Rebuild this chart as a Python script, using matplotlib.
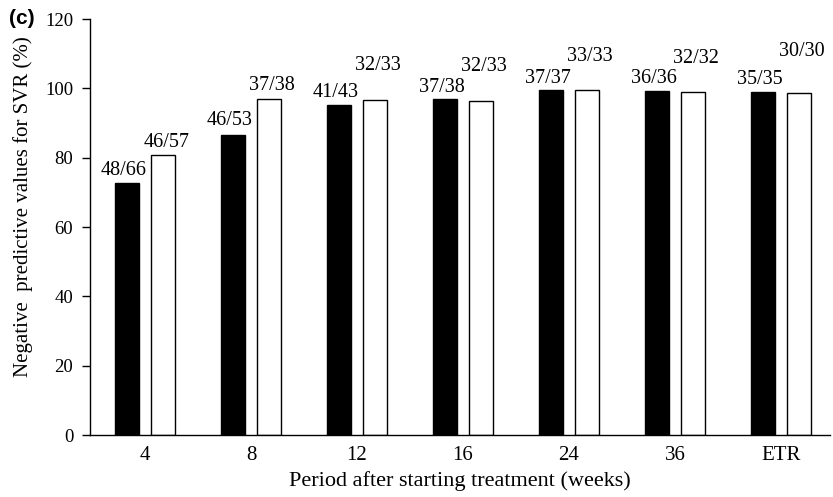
import numpy as np
import matplotlib
matplotlib.use("Agg")
import matplotlib.pyplot as plt

categories = ["4", "8", "12", "16", "24", "36", "ETR"]
black_vals = [72.8, 86.6, 95.1, 96.8, 99.5, 99.2, 99.0]
white_vals = [80.7, 96.9, 96.6, 96.4, 99.4, 99.0, 98.8]
black_labels = ["48/66", "46/53", "41/43", "37/38", "37/37", "36/36", "35/35"]
white_labels = ["46/57", "37/38", "32/33", "32/33", "33/33", "32/32", "30/30"]
# heights where the count labels sit (baseline)
black_label_y = [73.5, 88.0, 96.0, 97.5, 100.0, 100.0, 99.8]
white_label_y = [81.5, 98.0, 104.0, 103.5, 106.5, 106.0, 108.0]

plt.rcParams["font.family"] = ["Liberation Serif", "DejaVu Serif"]

fig = plt.figure(figsize=(8.33, 4.97), dpi=100)
ax = fig.add_axes([0.108, 0.1247, 0.888, 0.837])

x = np.arange(len(categories))
off = 0.17
w = 0.22
ax.bar(x - off, black_vals, w, color="black", edgecolor="black", linewidth=1)
ax.bar(x + off, white_vals, w, color="white", edgecolor="black", linewidth=1)

for i in range(len(categories)):
    ax.text(x[i] - off - 0.03, black_label_y[i], black_labels[i], ha="center",
            va="bottom", fontsize=14.5)
    ax.text(x[i] + off + 0.03, white_label_y[i], white_labels[i], ha="center",
            va="bottom", fontsize=14.5)

ax.set_xlim(-0.52, 6.46)
ax.set_ylim(0, 120)
ax.set_yticks(range(0, 121, 20))
ax.set_xticks(x)
ax.set_xticklabels(categories)
ax.tick_params(axis="x", length=0, pad=8, labelsize=15)
ax.tick_params(axis="y", length=6, width=1, direction="out", pad=6, labelsize=13.5)
for s in ["top", "right"]:
    ax.spines[s].set_visible(False)
ax.spines["left"].set_linewidth(1)
ax.spines["bottom"].set_linewidth(1)

ax.set_xlabel("Period after starting treatment (weeks)", fontsize=16, labelpad=4)
ax.set_ylabel("Negative  predictive values for SVR (%)", fontsize=15)
ax.yaxis.set_label_coords(-0.077, 0.548)

fig.text(0.011, 0.963, "(c)", fontsize=15, fontweight="bold",
         family="Liberation Sans", va="center")

fig.savefig("out.png", dpi=100)
